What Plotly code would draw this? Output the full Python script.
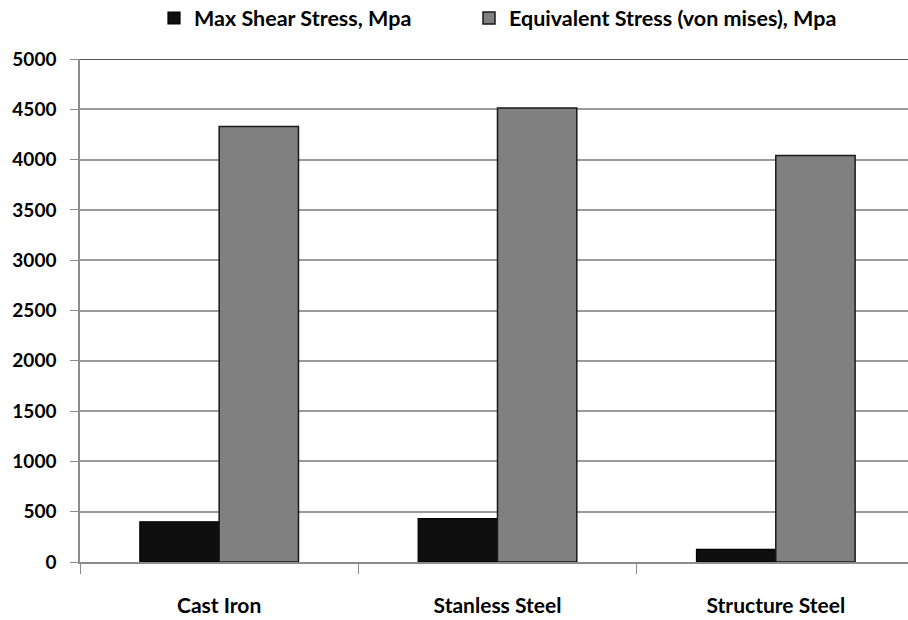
import plotly.graph_objects as go

categories = ["Cast Iron", "Stanless Steel", "Structure Steel"]
max_shear = [400, 432, 125]
von_mises = [4330, 4512, 4040]
y_ticks = [0, 500, 1000, 1500, 2000, 2500, 3000, 3500, 4000, 4500, 5000]

FONT = "Lato"

fig = go.Figure()
fig.add_trace(go.Bar(
    name="Max Shear Stress, Mpa", x=categories, y=max_shear,
    marker=dict(color="#0f0f0f", line=dict(color="#000000", width=1.2)),
    legend="legend",
))
fig.add_trace(go.Bar(
    name="Equivalent Stress (von mises), Mpa", x=categories, y=von_mises,
    marker=dict(color="#808080", line=dict(color="#1a1a1a", width=1.5)),
    legend="legend2",
))

legend_style = dict(
    orientation="h", xanchor="left", xref="container",
    yref="container", y=1 - 18 / 620, yanchor="middle",
    font=dict(size=21.5, family=FONT, weight="bold"),
    itemwidth=30, bgcolor="rgba(0,0,0,0)",
)

fig.update_layout(
    width=908, height=620,
    margin=dict(l=80, r=0, t=59, b=58),
    paper_bgcolor="white", plot_bgcolor="white",
    barmode="group", bargap=0.43, bargroupgap=0,
    font=dict(family=FONT, color="#000000"),
    showlegend=True,
    legend=dict(x=154 / 908, **legend_style),
    legend2=dict(x=469 / 908, **legend_style),
    xaxis=dict(
        range=[-0.5, 2.475], showgrid=False,
        showline=True, linecolor="#8c8c8c", linewidth=1.5,
        ticks="outside", tickson="boundaries", ticklen=10, tickcolor="#8c8c8c",
        ticklabelstandoff=24,
        tickfont=dict(size=21, family=FONT, weight="bold"),
    ),
    yaxis=dict(
        range=[0, 5000], tickvals=y_ticks,
        showgrid=True, gridcolor="#9a9a9a", gridwidth=1.5,
        zeroline=False,
        showline=True, linecolor="#8c8c8c", linewidth=1.5,
        ticks="outside", ticklen=8, tickcolor="#8c8c8c",
        ticklabelstandoff=10,
        tickfont=dict(size=19, family=FONT, weight="bold"),
    ),
)

# darker top border of the plotting area
fig.add_shape(type="line", xref="paper", yref="y", x0=0, x1=1, y0=5000, y1=5000,
              line=dict(color="#1a1a1a", width=1.5), layer="below")

fig.write_html("out.html")
